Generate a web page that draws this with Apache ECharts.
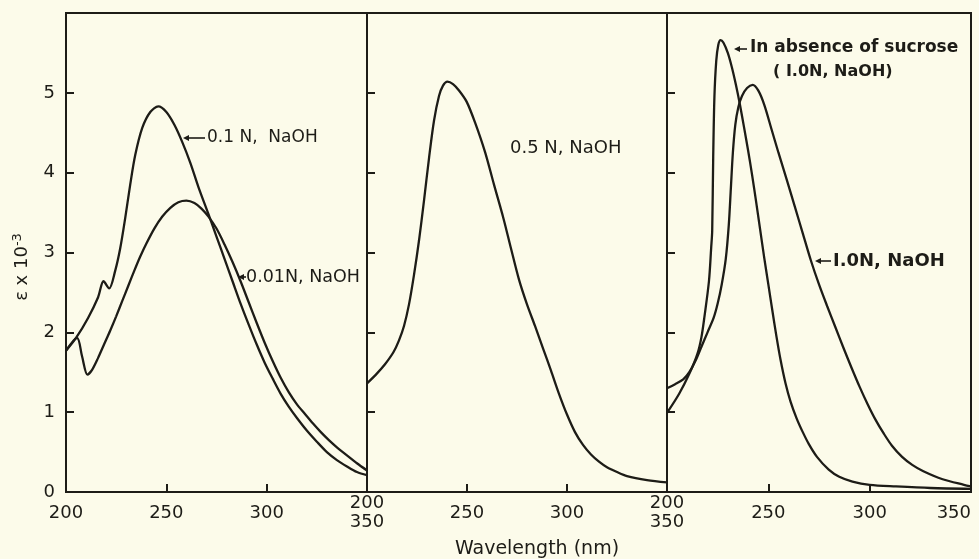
<!DOCTYPE html>
<html>
<head>
<meta charset="utf-8">
<script src="https://cdn.jsdelivr.net/npm/echarts@6/dist/echarts.min.js"></script>
<style>
  html, body { margin: 0; padding: 0; background: #fcfbea; }
  #chart { width: 979px; height: 559px; }
</style>
</head>
<body>
<div id="chart"></div>
<script>
// panel 1 : 0.1 N and 0.01 N NaOH
var wl01N  = [200, 205, 211, 216, 218.7, 221.5, 224.5, 227, 229.5, 232, 234.5, 238, 242, 246, 250, 254, 258, 262, 266, 271, 275, 279, 283, 287, 291, 295, 299, 303, 307, 311, 315, 320, 325, 330, 335, 340, 345, 350];
var eps01N = [1.77, 1.93, 2.18, 2.44, 2.64, 2.55, 2.77, 3.05, 3.43, 3.85, 4.22, 4.56, 4.76, 4.83, 4.76, 4.6, 4.38, 4.12, 3.82, 3.48, 3.2, 2.92, 2.64, 2.36, 2.1, 1.85, 1.62, 1.42, 1.23, 1.07, 0.93, 0.77, 0.63, 0.5, 0.4, 0.32, 0.25, 0.21];

var wl001N  = [200, 205.5, 208, 210.7, 213, 216, 219, 222, 225, 228, 231, 234, 237, 240, 244, 248, 252, 256, 260, 264, 267.5, 271, 275, 279, 283, 287, 291, 295, 299, 303, 307, 311, 315, 319, 323, 327, 331, 335, 340, 345, 350];
var eps001N = [1.77, 1.93, 1.7, 1.47, 1.53, 1.68, 1.85, 2.02, 2.2, 2.39, 2.58, 2.77, 2.95, 3.11, 3.3, 3.45, 3.56, 3.63, 3.65, 3.62, 3.55, 3.45, 3.3, 3.1, 2.88, 2.64, 2.38, 2.12, 1.87, 1.64, 1.43, 1.25, 1.1, 0.98, 0.86, 0.75, 0.65, 0.56, 0.46, 0.36, 0.27];

// panel 2 : 0.5 N NaOH
var wl05N  = [200, 204.8, 209, 213.2, 216, 218.5, 221, 223.5, 226, 228.5, 231, 233.5, 236, 238, 240.2, 243, 246, 249.8, 254, 259, 263.5, 268.2, 272, 276, 280, 284, 288, 292, 296, 300, 304, 308, 312, 316, 320, 325, 330, 340, 350];
var eps05N = [1.36, 1.48, 1.6, 1.75, 1.9, 2.08, 2.35, 2.72, 3.15, 3.65, 4.18, 4.65, 4.96, 5.09, 5.14, 5.11, 5.03, 4.89, 4.63, 4.26, 3.85, 3.43, 3.05, 2.66, 2.35, 2.08, 1.8, 1.52, 1.23, 0.97, 0.75, 0.59, 0.47, 0.38, 0.31, 0.25, 0.2, 0.15, 0.12];

// panel 3 : 1.0 N NaOH, with and without sucrose
var wl10N  = [200, 204, 208, 211, 214, 217, 220, 223, 225, 227, 229, 230.5, 231.5, 232.5, 233.7, 235.2, 237, 239.5, 242.3, 245, 248, 251.5, 255, 259, 263, 267, 271, 275, 279, 283, 287, 291, 295, 299, 303, 307, 311, 316, 321, 326.5, 336, 346.5, 350];
var eps10N = [1.3, 1.35, 1.41, 1.5, 1.64, 1.82, 2.0, 2.18, 2.36, 2.6, 2.92, 3.35, 3.8, 4.25, 4.6, 4.82, 4.96, 5.06, 5.1, 5.03, 4.85, 4.55, 4.25, 3.92, 3.58, 3.24, 2.9, 2.6, 2.33, 2.07, 1.81, 1.56, 1.32, 1.1, 0.9, 0.73, 0.58, 0.44, 0.34, 0.26, 0.16, 0.09, 0.07];

var wlNoSuc  = [200, 206, 211, 215, 217, 218.5, 220.7, 221.8, 222.3, 222.8, 223.4, 224.3, 225.3, 226.4, 227.8, 230, 232, 234, 236, 238, 240, 242, 244, 246, 248, 250, 252, 254, 256, 258.5, 261, 264, 267, 270, 274, 279.8, 285, 291.5, 300, 313, 330, 350];
var epsNoSuc = [0.99, 1.23, 1.48, 1.73, 1.94, 2.2, 2.64, 3.06, 3.27, 4.2, 4.95, 5.4, 5.6, 5.66, 5.63, 5.5, 5.32, 5.1, 4.85, 4.57, 4.28, 3.97, 3.63, 3.28, 2.93, 2.6, 2.27, 1.95, 1.66, 1.36, 1.13, 0.92, 0.75, 0.6, 0.44, 0.28, 0.19, 0.13, 0.09, 0.07, 0.05, 0.04];

var xTicks = [200, 250, 300, 350];
var yTicks = [0, 1, 2, 3, 4, 5, 6];

var ink = '#1d1c17';
var font = 'DejaVu Sans';

var panels = [
    { left: 66,  width: 301 },
    { left: 367, width: 300 },
    { left: 667, width: 304 }
];

function pairs(xs, ys) {
    return xs.map(function (x, i) { return [x, ys[i]]; });
}

function xLabel(panel) {
    return function (v) {
        if (v === 200) return panel === 0 ? '200' : '200\n350';
        if (v === 350) return panel === 2 ? '350' : '';
        return String(v);
    };
}

function arrow(tipX, tailX, y) {
    return {
        type: 'group',
        children: [
            { type: 'line', shape: { x1: tipX + 2, y1: y, x2: tailX, y2: y }, style: { stroke: ink, lineWidth: 1.6 } },
            { type: 'polygon', shape: { points: [[tipX, y], [tipX + 6, y - 3], [tipX + 6, y + 3]] }, style: { fill: ink } }
        ]
    };
}

var grids = [], xAxes = [], yAxes = [];
panels.forEach(function (p, i) {
    grids.push({ left: p.left, width: p.width, top: 13, bottom: 67, show: true, borderColor: ink, borderWidth: 2, backgroundColor: 'transparent' });
    xAxes.push({
        gridIndex: i, type: 'value', min: xTicks[0], max: xTicks[xTicks.length - 1], interval: 50,
        axisLine: { show: true, onZero: false, lineStyle: { color: ink, width: 2 } },
        axisTick: { show: true, inside: true, length: 8, lineStyle: { color: ink, width: 2 } },
        axisLabel: {
            show: true, formatter: xLabel(i), color: ink, fontFamily: font, fontSize: 18,
            verticalAlign: 'middle', margin: 21, lineHeight: 19,
            showMinLabel: true, showMaxLabel: true,
            alignMaxLabel: i === 2 ? 'right' : null
        },
        splitLine: { show: false }
    });
    yAxes.push({
        gridIndex: i, type: 'value', min: yTicks[0], max: yTicks[yTicks.length - 1], interval: 1,
        axisLine: { show: true, lineStyle: { color: ink, width: 2 } },
        axisTick: { show: true, inside: true, length: 8, lineStyle: { color: ink, width: 2 } },
        axisLabel: {
            show: i === 0, color: ink, fontFamily: font, fontSize: 18, margin: 11,
            formatter: function (v) { return v === 6 ? '' : String(v); }
        },
        splitLine: { show: false }
    });
});

function curve(name, xs, ys, panel) {
    return {
        name: name, type: 'line', xAxisIndex: panel, yAxisIndex: panel,
        data: pairs(xs, ys), showSymbol: false, smooth: 0.3,
        lineStyle: { color: ink, width: 2.3 }, silent: true
    };
}

var chart = echarts.init(document.getElementById('chart'), null, { renderer: 'canvas' });
chart.setOption({
    backgroundColor: '#fcfbea',
    animation: false,
    grid: grids,
    xAxis: xAxes,
    yAxis: yAxes,
    series: [
        curve('0.1N, NaOH', wl01N, eps01N, 0),
        curve('0.01N, NaOH', wl001N, eps001N, 0),
        curve('0.5N, NaOH', wl05N, eps05N, 1),
        curve('1.0N, NaOH', wl10N, eps10N, 2),
        curve('In absence of sucrose', wlNoSuc, epsNoSuc, 2)
    ],
    graphic: [
        // panel 1 labels
        arrow(183, 205, 138),
        { type: 'text', style: { text: '0.1 N,  NaOH', x: 207, y: 138, fill: ink, font: '17px "DejaVu Sans"', textVerticalAlign: 'middle' } },
        arrow(238, 246, 277),
        { type: 'text', style: { text: '0.01N, NaOH', x: 246, y: 277, fill: ink, font: '17.5px "DejaVu Sans"', textVerticalAlign: 'middle' } },
        // panel 2
        { type: 'text', style: { text: '0.5 N, NaOH', x: 510, y: 148, fill: ink, font: '18px "DejaVu Sans"', textVerticalAlign: 'middle' } },
        // panel 3
        arrow(734, 747, 49),
        { type: 'text', style: { text: 'In absence of sucrose', x: 750, y: 48, fill: ink, font: 'bold 17px "DejaVu Sans"', textVerticalAlign: 'middle' } },
        { type: 'text', style: { text: '( I.0N, NaOH)', x: 773, y: 72, fill: ink, font: 'bold 16px "DejaVu Sans"', textVerticalAlign: 'middle' } },
        arrow(815, 831, 261),
        { type: 'text', style: { text: 'I.0N, NaOH', x: 833, y: 261, fill: ink, font: 'bold 18px "DejaVu Sans"', textVerticalAlign: 'middle' } },
        // axis names
        {
            type: 'text', x: 22, y: 267, rotation: Math.PI / 2,
            style: {
                text: '{a|ε x 10}{s|-3}', align: 'center', verticalAlign: 'middle',
                rich: {
                    a: { fontFamily: font, fontSize: 18, fill: ink, color: ink },
                    s: { fontFamily: font, fontSize: 13, fill: ink, color: ink, verticalAlign: 'top', padding: [0, 0, 9, 0] }
                }
            }
        },
        { type: 'text', style: { text: 'Wavelength (nm)', x: 537, y: 549, fill: ink, font: '19px "DejaVu Sans"', textAlign: 'center', textVerticalAlign: 'middle' } }
    ]
});
</script>
</body>
</html>
